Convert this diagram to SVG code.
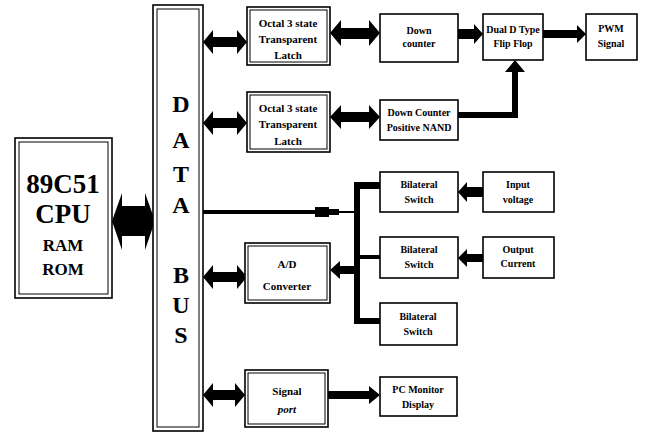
<svg xmlns="http://www.w3.org/2000/svg" width="648" height="433" viewBox="0 0 648 433">
<style>
.box{fill:#fff;stroke:#000;stroke-width:1.6}
.thin{fill:none;stroke:#000;stroke-width:1}
.t{font-family:"Liberation Serif",serif;font-weight:bold;fill:#000;text-anchor:middle}
.s{font-size:10px}
.m{font-size:11px}
.big{font-size:27px}
.mid{font-size:17px}
.bus{font-size:24px}
.a{fill:#000}
</style>
<rect width="648" height="433" fill="#fff"/>
<g id="connectors">
  <!-- CPU <-> bus -->
  <polygon class="a" points="112,221 122,193 122,206 145,206 145,193 155,221 145,250 145,236 122,236 122,250"/>
  <!-- bus <-> latch1 -->
  <polygon class="a" points="203,42 213,30 213,37 237,37 237,30 247,42 237,54 237,47 213,47 213,54"/>
  <!-- bus <-> latch2 -->
  <polygon class="a" points="203,123 213,111 213,118 237,118 237,111 247,123 237,135 237,128 213,128 213,135"/>
  <!-- latch1 <-> down counter -->
  <polygon class="a" points="330,33 341,20 341,28 369,28 369,20 380,33 369,46 369,39 341,39 341,46"/>
  <!-- latch2 <-> NAND -->
  <polygon class="a" points="330,117 341,105 341,112 369,112 369,105 380,117 369,129 369,122 341,122 341,129"/>
  <!-- down counter -> flip flop -->
  <polygon class="a" points="458,29 474,29 474,24 483,34 474,44 474,39 458,39"/>
  <!-- flip flop -> PWM -->
  <polygon class="a" points="543,30 577,30 577,25 586,34 577,43 577,38 543,38"/>
  <!-- NAND -> flip flop -->
  <polygon class="a" points="458,112 512,112 512,72 505,72 515,60 525,72 518,72 518,118 458,118"/>
  <!-- bus -> switches line with plug -->
  <rect class="a" x="203" y="210" width="112" height="4"/>
  <rect class="a" x="315" y="207" width="14" height="10"/>
  <rect class="a" x="329" y="209" width="10" height="6"/>
  <rect class="a" x="339" y="211" width="18" height="2"/>
  <!-- vertical bar -->
  <rect class="a" x="354" y="182" width="6" height="142"/>
  <rect class="a" x="360" y="182" width="20" height="7"/>
  <rect class="a" x="360" y="255" width="20" height="4"/>
  <rect class="a" x="360" y="318" width="20" height="6"/>
  <!-- bar -> A/D -->
  <polygon class="a" points="354,266 340,266 340,261 330,270 340,279 340,274 354,274"/>
  <!-- input voltage -> switch1 -->
  <polygon class="a" points="483,187 467,187 467,182 458,192 467,202 467,197 483,197"/>
  <!-- output current -> switch2 -->
  <polygon class="a" points="483,254 467,254 467,249 458,258 467,267 467,262 483,262"/>
  <!-- bus <-> A/D -->
  <polygon class="a" points="203,277 213,265 213,272 237,272 237,265 247,277 237,289 237,282 213,282 213,289"/>
  <!-- bus <-> signal port -->
  <polygon class="a" points="203,395 213,383 213,390 235,390 235,383 245,395 235,407 235,400 213,400 213,407"/>
  <!-- signal port -> PC monitor -->
  <polygon class="a" points="328,391 369,391 369,386 380,395 369,404 369,399 328,399"/>
</g>
<g id="databus">
  <rect class="box" x="153" y="5" width="50" height="426"/>
  <rect class="thin" x="157" y="9" width="42" height="418"/>
  <text class="t bus" x="181" y="112">D</text>
  <text class="t bus" x="181" y="148">A</text>
  <text class="t bus" x="181" y="182">T</text>
  <text class="t bus" x="181" y="213">A</text>
  <text class="t bus" x="181" y="283">B</text>
  <text class="t bus" x="181" y="313">U</text>
  <text class="t bus" x="181" y="343">S</text>
</g>
<g id="cpu">
  <rect class="box" x="15" y="138" width="97" height="160"/>
  <rect class="thin" x="19" y="142" width="89" height="152"/>
  <text class="t big" x="63" y="193">89C51</text>
  <text class="t big" x="63" y="223">CPU</text>
  <text class="t mid" x="63" y="251">RAM</text>
  <text class="t mid" x="63" y="275">ROM</text>
</g>
<g id="latch1">
  <rect class="box" x="247" y="7" width="83" height="58"/>
  <rect class="thin" x="250" y="10" width="77" height="52"/>
  <text class="t m" x="288" y="27">Octal 3 state</text>
  <text class="t m" x="288" y="43">Transparent</text>
  <text class="t m" x="288" y="59">Latch</text>
</g>
<g id="latch2">
  <rect class="box" x="247" y="92" width="83" height="60"/>
  <rect class="thin" x="250" y="95" width="77" height="54"/>
  <text class="t m" x="288" y="112">Octal 3 state</text>
  <text class="t m" x="288" y="128">Transparent</text>
  <text class="t m" x="288" y="145">Latch</text>
</g>
<g id="downcounter">
  <rect class="box" x="380" y="14" width="78" height="48"/>
  <text class="t s" x="419" y="34">Down</text>
  <text class="t s" x="419" y="47">counter</text>
</g>
<g id="flipflop">
  <rect class="box" x="483" y="14" width="60" height="46"/>
  <text class="t s" x="513" y="33">Dual  D Type</text>
  <text class="t s" x="513" y="47">Flip Flop</text>
</g>
<g id="pwm">
  <rect class="box" x="586" y="14" width="51" height="46"/>
  <text class="t s" x="611" y="32">PWM</text>
  <text class="t s" x="611" y="47">Signal</text>
</g>
<g id="nand">
  <rect class="box" x="380" y="100" width="78" height="40"/>
  <text class="t s" x="419" y="116">Down Counter</text>
  <text class="t s" x="419" y="131">Positive NAND</text>
</g>
<g id="switch1">
  <rect class="box" x="380" y="172" width="78" height="40"/>
  <text class="t s" x="419" y="188">Bilateral</text>
  <text class="t s" x="419" y="203">Switch</text>
</g>
<g id="inputvoltage">
  <rect class="box" x="483" y="172" width="71" height="40"/>
  <text class="t s" x="518" y="188">Input</text>
  <text class="t s" x="518" y="203">voltage</text>
</g>
<g id="switch2">
  <rect class="box" x="380" y="237" width="78" height="41"/>
  <text class="t s" x="419" y="253">Bilateral</text>
  <text class="t s" x="419" y="268">Switch</text>
</g>
<g id="outputcurrent">
  <rect class="box" x="483" y="237" width="71" height="41"/>
  <text class="t s" x="518" y="253">Output</text>
  <text class="t s" x="518" y="267">Current</text>
</g>
<g id="switch3">
  <rect class="box" x="380" y="303" width="77" height="42"/>
  <text class="t s" x="418" y="320">Bilateral</text>
  <text class="t s" x="418" y="335">Switch</text>
</g>
<g id="adconverter">
  <rect class="box" x="245" y="243" width="85" height="60"/>
  <rect class="thin" x="248" y="246" width="79" height="54"/>
  <text class="t m" x="287" y="268">A/D</text>
  <text class="t m" x="287" y="290">Converter</text>
</g>
<g id="signalport">
  <rect class="box" x="245" y="370" width="83" height="57"/>
  <rect class="thin" x="248" y="373" width="77" height="51"/>
  <text class="t m" x="287" y="395">Signal</text>
  <text class="t m" x="287" y="413" font-style="italic">port</text>
</g>
<g id="pcmonitor">
  <rect class="box" x="380" y="377" width="77" height="39"/>
  <text class="t s" x="418" y="393">PC Monitor</text>
  <text class="t s" x="418" y="408">Display</text>
</g>
</svg>
